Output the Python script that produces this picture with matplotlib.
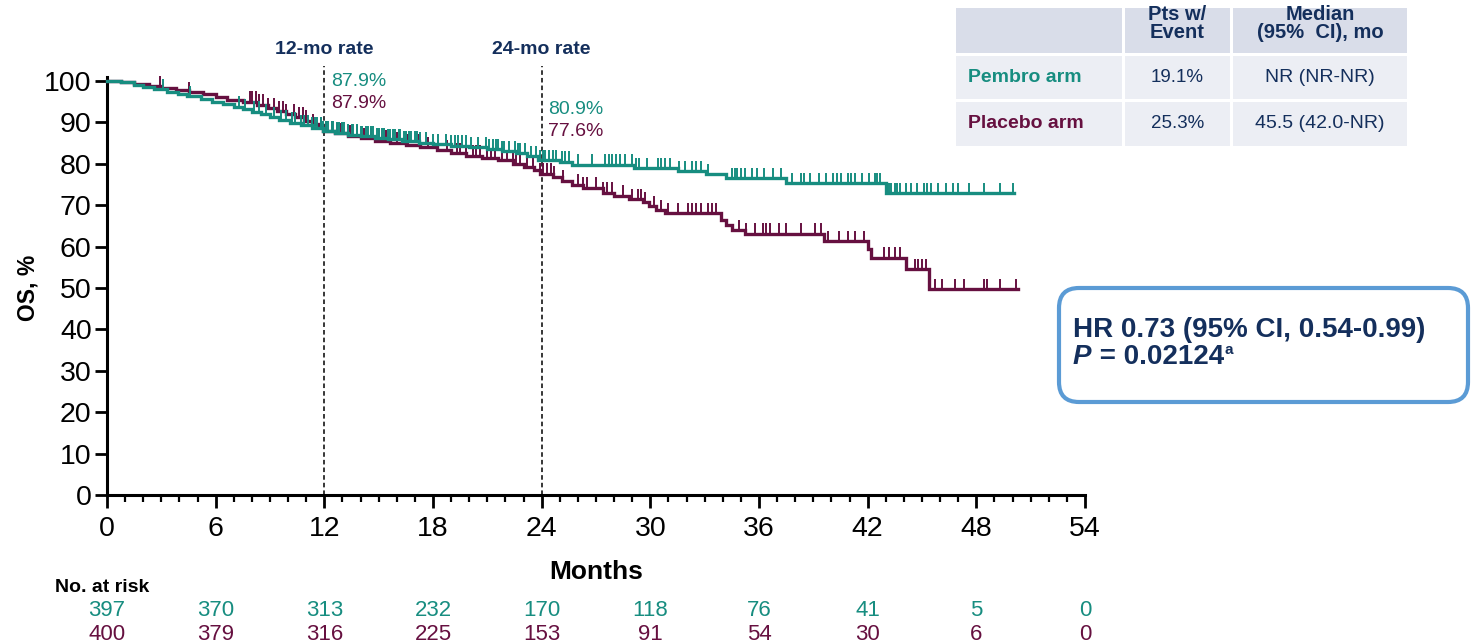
import os
import numpy as np
import matplotlib
matplotlib.use("Agg")
import matplotlib.pyplot as plt
from matplotlib import font_manager as fm
from matplotlib.patches import FancyBboxPatch, Rectangle
from matplotlib.transforms import IdentityTransform

# ---- Kaplan-Meier step points: time (months) and OS (%) after each step ----
pembro_t = [0, 0.8, 1.5, 2.0, 2.6, 3.3, 3.9, 4.4, 5.2, 5.8, 6.4, 7.0, 7.5, 8.0, 8.5,
            9.0, 9.5, 10.1, 10.7, 11.3, 11.9, 12.6, 13.3, 14.0, 14.8, 15.5, 16.3,
            17.2, 18.0, 19.0, 20.0, 21.0, 21.8, 22.6, 23.2, 23.8, 25.0, 25.7, 29.1,
            31.5, 33.1, 34.2, 37.5, 43.0]
pembro_s = [100, 99.7, 99.0, 98.5, 98.0, 97.3, 96.8, 96.3, 95.6, 95.0, 94.5, 93.8,
            93.2, 92.6, 92.0, 91.2, 90.5, 89.9, 89.3, 88.7, 87.9, 87.5, 87.0, 86.6,
            86.2, 85.9, 85.5, 85.1, 84.8, 84.4, 84.0, 83.5, 83.0, 82.5, 81.9, 80.9,
            80.5, 79.8, 78.9, 78.2, 77.5, 76.6, 75.3, 72.9]
pembro_end = 50.1

placebo_t = [0, 0.8, 1.5, 2.3, 3.0, 3.8, 4.5, 5.3, 6.0, 6.6, 7.5, 8.3, 8.9, 9.4,
             9.9, 10.4, 10.9, 11.3, 11.7, 11.95, 12.6, 13.3, 14.0, 14.8, 15.6, 16.5,
             17.3, 18.2, 19.0, 19.8, 20.7, 21.6, 22.4, 23.0, 23.6, 23.9, 24.6, 25.1,
             25.7, 26.3, 27.4, 28.0, 28.8, 29.6, 29.9, 30.3, 30.8, 33.9, 34.2, 34.5,
             35.2, 39.6, 42.0, 42.2, 44.1, 45.4]
placebo_s = [100, 99.7, 99.2, 98.8, 98.3, 97.8, 97.3, 96.8, 96.2, 95.5, 95.0, 94.3,
             93.5, 92.7, 92.0, 91.2, 90.4, 89.6, 88.8, 87.9, 87.4, 86.8, 86.2, 85.6,
             85.1, 84.6, 84.0, 83.3, 82.5, 82.0, 81.4, 80.8, 80.0, 79.2, 78.5, 77.6,
             76.9, 75.9, 75.0, 74.2, 73.0, 72.3, 71.5, 70.7, 69.8, 68.8, 68.0, 66.5,
             65.2, 64.0, 63.1, 61.3, 59.5, 57.3, 54.6, 49.7]
placebo_end = 50.3

# ---- censoring times (months) ----
pembro_censor = [3.1, 4.6, 7.3, 7.6, 8.1, 8.4, 8.8, 9.2, 9.6, 9.9, 10.2, 10.4, 10.7,
                 10.9, 11.1, 11.3, 11.5, 11.6, 11.8, 11.9, 12.1, 12.2, 12.4, 12.5,
                 12.7, 12.8, 13.0, 13.1, 13.3, 13.5, 13.6, 13.8, 14.0, 14.1, 14.3,
                 14.4, 14.6, 14.7, 14.9, 15.0, 15.2, 15.3, 15.5, 15.6, 15.8, 15.9,
                 16.1, 16.2, 16.4, 16.5, 16.7, 16.8, 17.0, 17.1, 17.3, 17.6, 18.0,
                 18.3, 18.7, 19.0, 19.2, 19.4, 19.6, 19.8, 20.1, 20.5, 20.9, 21.1,
                 21.3, 21.5, 21.6, 21.8, 21.9, 22.2, 22.5, 22.7, 22.8, 23.1, 23.4,
                 23.7, 23.9, 24.1, 24.2, 24.4, 24.6, 24.8, 25.1, 25.3, 25.5, 26.0,
                 26.8, 27.5, 27.7, 27.9, 28.1, 28.3, 28.6, 29.0, 29.2, 29.4, 29.8,
                 30.4, 30.6, 30.8, 31.1, 31.6, 31.9, 32.3, 32.5, 32.8, 33.2, 34.5,
                 34.7, 34.8, 35.0, 35.2, 35.6, 35.9, 36.3, 36.8, 37.2, 37.8, 38.3,
                 38.5, 38.8, 39.3, 39.7, 40.1, 40.3, 40.5, 40.9, 41.1, 41.3, 41.7,
                 42.1, 42.4, 42.5, 42.7, 43.2, 43.3, 43.5, 43.6, 43.8, 44.1, 44.4,
                 44.7, 45.1, 45.3, 45.5, 45.9, 46.3, 46.7, 47.0, 47.6, 48.4, 49.3,
                 50.0]
placebo_censor = [2.9, 4.5, 7.9, 8.0, 8.2, 8.4, 8.6, 8.9, 9.2, 9.5, 9.7, 9.9, 10.3,
                  10.6, 10.8, 11.0, 11.4, 11.8, 12.1, 12.4, 12.7, 12.9, 13.0, 13.4,
                  13.8, 14.2, 14.6, 15.0, 15.4, 16.0, 16.6, 17.2, 17.7, 18.3, 18.8,
                  19.3, 19.5, 19.8, 20.2, 20.4, 20.6, 21.0, 21.2, 21.4, 21.8, 22.1,
                  22.4, 22.6, 22.8, 23.2, 23.5, 23.9, 24.1, 24.3, 24.5, 24.7, 25.2,
                  26.0, 26.3, 26.5, 27.0, 27.4, 27.6, 27.9, 28.5, 29.0, 29.3, 29.5,
                  29.7, 30.2, 30.6, 31.0, 31.5, 32.1, 32.3, 32.5, 32.8, 33.2, 33.4,
                  33.6, 34.9, 35.3, 35.8, 36.2, 36.4, 36.6, 37.1, 37.5, 38.3, 39.1,
                  39.4, 39.8, 40.4, 40.9, 41.3, 41.8, 42.9, 43.2, 43.5, 43.8, 44.6,
                  44.8, 45.0, 45.2, 45.7, 46.1, 46.8, 47.3, 48.4, 48.6, 49.3, 50.2]

# ---- landmark rates ----
landmarks = [12, 24]
landmark_titles = ["12-mo rate", "24-mo rate"]
pembro_rates = ["87.9%", "80.9%"]
placebo_rates = ["87.9%", "77.6%"]

# ---- number at risk ----
risk_times = [0, 6, 12, 18, 24, 30, 36, 42, 48, 54]
pembro_risk = [397, 370, 313, 232, 170, 118, 76, 41, 5, 0]
placebo_risk = [400, 379, 316, 225, 153, 91, 54, 30, 6, 0]

# ---- summary table ----
table_header = ["", "Pts w/\nEvent", "Median\n(95%  CI), mo"]
arm_names = ["Pembro arm", "Placebo arm"]
arm_events = ["19.1%", "25.3%"]
arm_medians = ["NR (NR-NR)", "45.5 (42.0-NR)"]

TEAL = "#178d80"
PLUM = "#661040"
NAVY = "#142f5c"


def sans(size, bold=False, italic=False):
    return fm.FontProperties(family=["Liberation Sans", "DejaVu Sans"], size=size,
                             weight="bold" if bold else "normal",
                             style="italic" if italic else "normal")


W, H = 1472, 644
fig = plt.figure(figsize=(W / 100, H / 100), dpi=100)


def fx(px):
    return px / W


def fy(py):
    return 1 - py / H


ax = fig.add_axes([fx(107), fy(495), fx(1085) - fx(107), fy(81) - fy(495)])


def km(ax, t, s, end, censor, color):
    tt = list(t) + [end]
    ss = list(s) + [s[-1]]
    ax.step(tt, ss, where="post", color=color, lw=2.4, solid_joinstyle="miter",
            zorder=3, clip_on=False)
    ta = np.asarray(t)
    sa = np.asarray(s)
    c = np.asarray(censor)
    sv = sa[np.searchsorted(ta, c, side="right") - 1]
    ax.vlines(c, sv, sv + 2.5, color=color, lw=1.4, zorder=3, clip_on=False)


km(ax, placebo_t, placebo_s, placebo_end, placebo_censor, PLUM)
km(ax, pembro_t, pembro_s, pembro_end, pembro_censor, TEAL)

ax.set_xlim(0, 54)
ax.set_ylim(0, 100)
for side in ("top", "right"):
    ax.spines[side].set_visible(False)
for side in ("left", "bottom"):
    ax.spines[side].set_linewidth(2.2)
ax.spines["left"].set_bounds(0, 101)

ax.set_xticks(risk_times)
ax.set_xticks(np.arange(0, 55, 1), minor=True)
ax.set_yticks(np.arange(0, 101, 10))
ax.tick_params(axis="x", which="major", length=9, width=2, direction="out", pad=6)
ax.tick_params(axis="x", which="minor", length=5, width=1.6, direction="out")
ax.tick_params(axis="y", which="major", length=9, width=2, direction="out", pad=2)
for lab in ax.get_xticklabels() + ax.get_yticklabels():
    lab.set_fontproperties(sans(20.5))

fig.text(fx(596), fy(572), "Months", ha="center", va="center", fontproperties=sans(19, True))
fig.text(fx(28), fy(288), "OS, %", ha="center", va="center", rotation=90,
         fontproperties=sans(16.5, True))

# landmark lines and rates
rate_y = {12: (99.8, 94.5), 24: (93.0, 87.9)}
for lm, title, pr, plr in zip(landmarks, landmark_titles, pembro_rates, placebo_rates):
    ax.vlines(lm, 0, 103.6, colors="black", linestyles=(0, (3, 2)), lw=1.1,
              clip_on=False, zorder=2)
    ax.text(lm, 107.5, title, ha="center", va="center", color=NAVY,
            fontproperties=sans(14, True))
    ax.text(lm + 0.35, rate_y[lm][0], pr, ha="left", va="center", color=TEAL,
            fontproperties=sans(14))
    ax.text(lm + 0.35, rate_y[lm][1], plr, ha="left", va="center", color=PLUM,
            fontproperties=sans(14))

# number at risk
fig.text(fx(55), fy(587), "No. at risk", ha="left", va="center", fontproperties=sans(14, True))
for t, a, b in zip(risk_times, pembro_risk, placebo_risk):
    xfig = fig.transFigure.inverted().transform(ax.transData.transform((t, 0)))[0]
    fig.text(xfig, fy(611), str(a), ha="center", va="center", color=TEAL,
             fontproperties=sans(16))
    fig.text(xfig, fy(634), str(b), ha="center", va="center", color=PLUM,
             fontproperties=sans(16))

# summary table
cols = [(956, 1122), (1125, 1230), (1233, 1407)]
rows = [(8, 53), (56, 99), (102, 146)]
for ri, (r0, r1) in enumerate(rows):
    for ci, (c0, c1) in enumerate(cols):
        face = "#d9dde9" if ri == 0 else "#eceef4"
        fig.patches.append(Rectangle((fx(c0), fy(r1)), fx(c1) - fx(c0), fy(r0) - fy(r1),
                                     transform=fig.transFigure, facecolor=face,
                                     edgecolor="none", zorder=0))

for ci in (1, 2):
    c0, c1 = cols[ci]
    for li, line in enumerate(table_header[ci].split("\n")):
        fig.text(fx((c0 + c1) / 2), fy(15 + 18 * li), line, ha="center", va="center",
                 color=NAVY, fontproperties=sans(14.5, True))
arm_colors = [TEAL, PLUM]
arm_rows_y = [77, 123]
for name, ev, med, colr, yp in zip(arm_names, arm_events, arm_medians, arm_colors, arm_rows_y):
    yc = fy(yp)
    fig.text(fx(968), yc, name, ha="left", va="center", color=colr,
             fontproperties=sans(14, True))
    fig.text(fx(sum(cols[1]) / 2), yc, ev, ha="center", va="center", color=NAVY,
             fontproperties=sans(13.5))
    fig.text(fx(sum(cols[2]) / 2), yc, med, ha="center", va="center", color=NAVY,
             fontproperties=sans(14))

# hazard ratio box (drawn in pixel units, origin at bottom-left)
box = FancyBboxPatch((1059, H - 402), 1468 - 1059, 402 - 288,
                     boxstyle="round,pad=0,rounding_size=20",
                     transform=IdentityTransform(), facecolor="white",
                     edgecolor="#5b9bd5", lw=3)
fig.patches.append(box)
fig.text(fx(1073), fy(330), "HR 0.73 (95% CI, 0.54-0.99)", ha="left", va="center",
         color=NAVY, fontproperties=sans(20, True))

renderer = fig.canvas.get_renderer()
p_txt = fig.text(fx(1073), fy(357), "P", ha="left", va="center", color=NAVY,
                 fontproperties=sans(20, True, True))
x_end = p_txt.get_window_extent(renderer).x1
rest = fig.text(x_end / W, fy(357), " = 0.02124", ha="left", va="center", color=NAVY,
                fontproperties=sans(20, True))
x_end = rest.get_window_extent(renderer).x1
fig.text(x_end / W + 0.0005, fy(350), "a", ha="left", va="center", color=NAVY,
         fontproperties=sans(11, True))

fig.savefig("out.png", dpi=100)
